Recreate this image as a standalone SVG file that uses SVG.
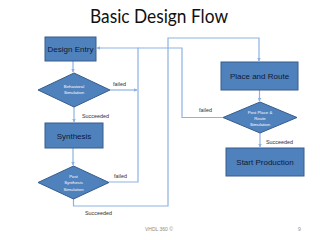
<svg xmlns="http://www.w3.org/2000/svg" width="320" height="240" viewBox="0 0 320 240">
<defs>
<marker id="arr" viewBox="0 0 6 6" refX="5" refY="3" markerWidth="3.5" markerHeight="3.5" orient="auto" markerUnits="userSpaceOnUse">
<path d="M0,0 L6,3 L0,6 z" fill="#8db3e2"/>
</marker>
<style>
.box{fill:#4f81bd;stroke:#385d8a;stroke-width:1}
.bt{font-family:"Liberation Sans",Arial,sans-serif;font-size:8px;fill:#0f1a33;text-anchor:middle}
.dt{font-family:"Liberation Sans",Arial,sans-serif;font-size:4.3px;fill:#ffffff;text-anchor:middle}
.lb{font-family:"Liberation Sans",Arial,sans-serif;font-size:5.4px;fill:#333333}
.ln{fill:none;stroke:#8db3e2;stroke-width:1.2}
.ft{font-family:"Liberation Sans",Arial,sans-serif;font-size:5px;fill:#8c8c8c}
</style>
</defs>
<rect width="320" height="240" fill="#ffffff"/>
<text x="159" y="23" font-family="Lato,'Open Sans',sans-serif" font-size="18.5" fill="#111111" text-anchor="middle" textLength="138" lengthAdjust="spacingAndGlyphs">Basic Design Flow</text>
<g id="connectors">
<path class="ln" d="M73,61 V72" marker-end="url(#arr)"/>
<path class="ln" d="M110,90 H137" marker-end="url(#arr)"/>
<path class="ln" d="M74,107 V122" marker-end="url(#arr)"/>
<path class="ln" d="M73,148 V165" marker-end="url(#arr)"/>
<path class="ln" d="M109,182 H138 V48 H97" marker-end="url(#arr)"/>
<path class="ln" d="M73.5,199 V206 H168 V38 H259 V61" marker-end="url(#arr)"/>
<path class="ln" d="M259.5,90 V101" marker-end="url(#arr)"/>
<path class="ln" d="M223,117.5 H182 V48 H138"/>
<path class="ln" d="M260,133 V147" marker-end="url(#arr)"/>
<text class="lb" x="113" y="86">failed</text>
<text class="lb" x="82" y="118">Succeeded</text>
<text class="lb" x="114" y="178">failed</text>
<text class="lb" x="85" y="215">Succeeded</text>
<text class="lb" x="199" y="112">failed</text>
<text class="lb" x="266" y="144">Succeeded</text>
</g>
<g id="design-entry">
<rect class="box" x="45" y="37" width="51" height="24"/>
<text class="bt" x="70.5" y="52">Design Entry</text>
</g>
<g id="behavioral-simulation">
<polygon class="box" points="74,73 110,90 74,107 38,90"/>
<text class="dt" x="74" y="88">Behavioral</text>
<text class="dt" x="74" y="94">Simulation</text>
</g>
<g id="synthesis">
<rect class="box" x="45" y="123" width="58" height="25"/>
<text class="bt" x="74" y="138.5">Synthesis</text>
</g>
<g id="post-synthesis-simulation">
<polygon class="box" points="73.5,166 109,182.5 73.5,199 38,182.5"/>
<text class="dt" x="73.5" y="177.5">Post</text>
<text class="dt" x="73.5" y="184">Synthesis</text>
<text class="dt" x="73.5" y="190.5">Simulation</text>
</g>
<g id="place-and-route">
<rect class="box" x="221" y="62" width="77" height="28"/>
<text class="bt" x="259.5" y="79">Place and Route</text>
</g>
<g id="post-place-route-simulation">
<polygon class="box" points="260,102 297,117.5 260,133 223,117.5"/>
<text class="dt" x="260" y="113.5">Post Place &amp;</text>
<text class="dt" x="260" y="119.5">Route</text>
<text class="dt" x="260" y="125.5">Simulation</text>
</g>
<g id="start-production">
<rect class="box" x="226" y="148" width="78" height="28"/>
<text class="bt" x="265" y="165">Start Production</text>
</g>
<text class="ft" x="145" y="231">VHDL 360 ©</text>
<text class="ft" x="298" y="231">9</text>
</svg>
